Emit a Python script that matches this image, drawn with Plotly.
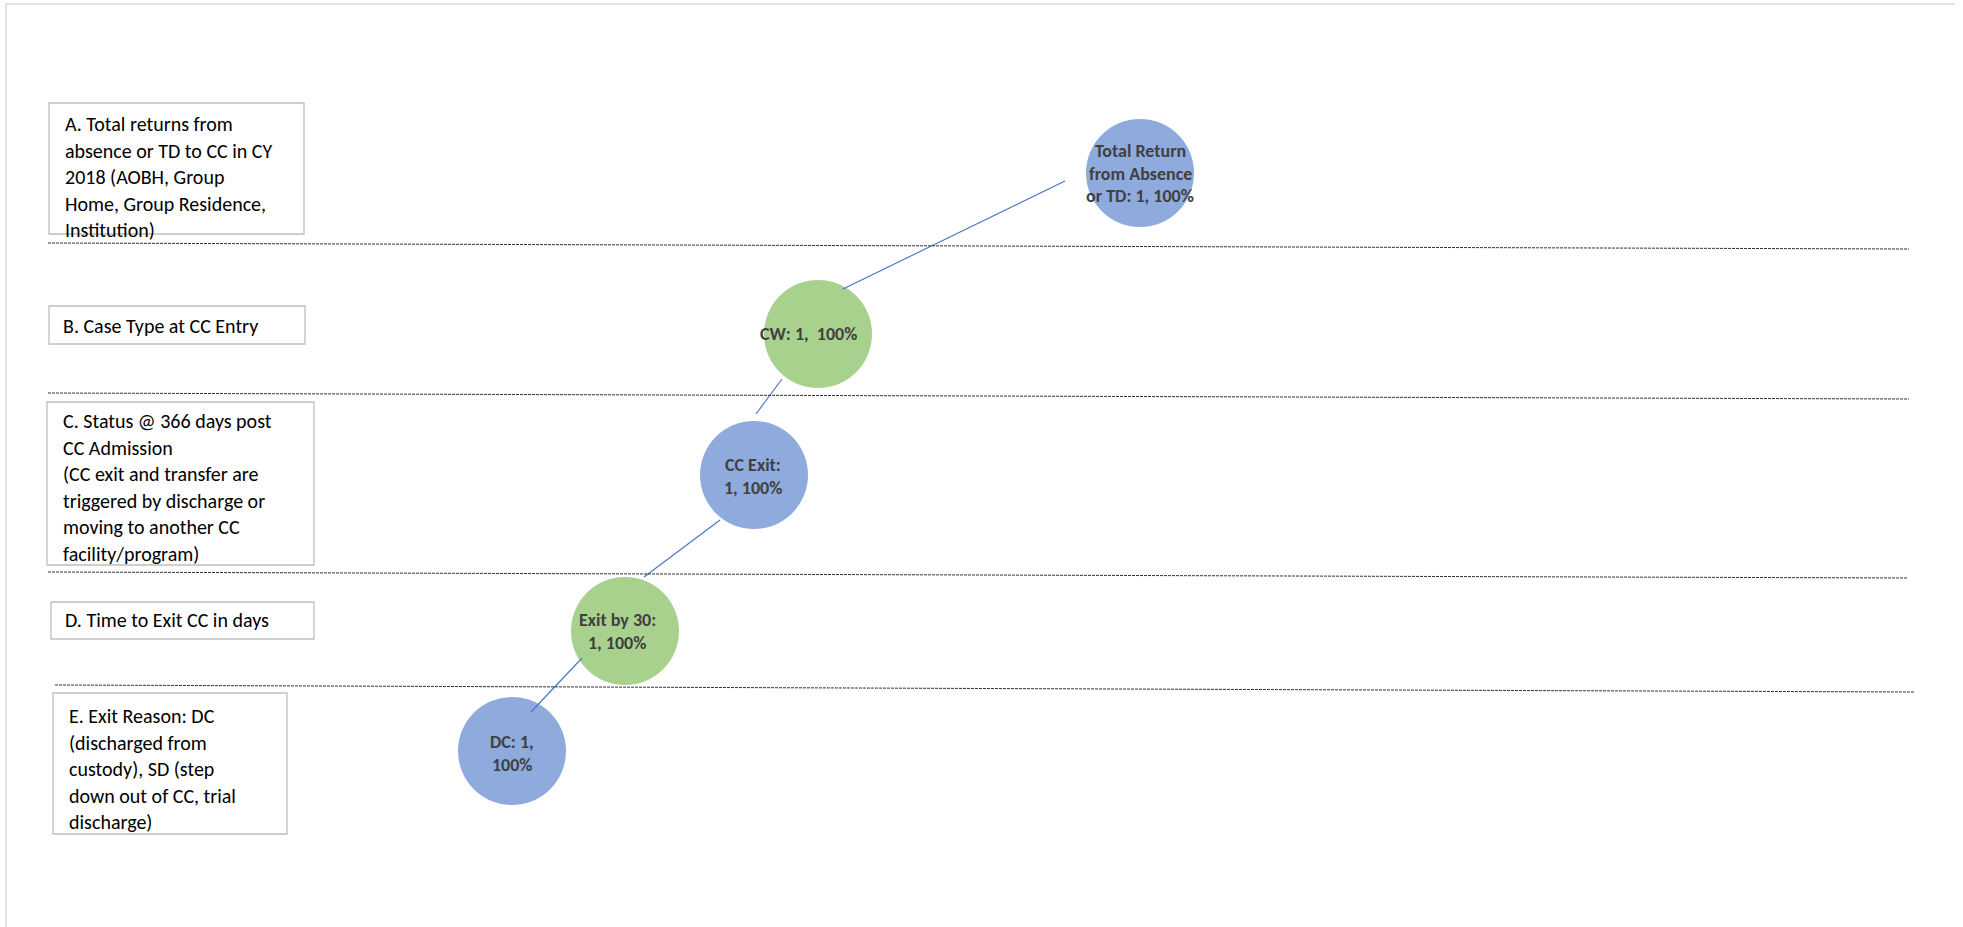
import plotly.graph_objects as go

# ---------------- data ----------------
stage_lines = [
    ["A. Total returns from", "absence or TD to CC in CY", "2018 (AOBH, Group",
     "Home, Group Residence,", "Institution)"],
    ["B. Case Type at CC Entry"],
    ["C. Status @ 366 days post", "CC Admission", "(CC exit and transfer are",
     "triggered by discharge or", "moving to another CC", "facility/program)"],
    ["D. Time to Exit CC in days"],
    ["E. Exit Reason: DC", "(discharged from", "custody), SD (step",
     "down out of CC, trial", "discharge)"],
]
node_lines = [
    ["Total Return", "from Absence", "or TD: 1, 100%"],
    ["CW: 1,  100%"],
    ["CC Exit:", "1, 100%"],
    ["Exit by 30:", "1, 100%"],
    ["DC: 1,", "100%"],
]
node_counts = [1, 1, 1, 1, 1]
node_pcts = [100, 100, 100, 100, 100]

# ---------------- layout (pixel space) ----------------
W, H = 1963, 927
node_cx = [1140, 818, 754, 625, 512]
node_cy = [173, 334, 475, 631, 751]
node_colors = ["#8FAADC", "#A9D18E", "#8FAADC", "#A9D18E", "#8FAADC"]
node_text_x = [1140, 808, 753, 617, 512]
node_text_y0 = [151, 334, 465, 620, 742]
node_line_h = 22.5

box_rects = [(49, 103, 304, 234), (49, 306, 305, 344), (47, 402, 314, 565),
             (51, 602, 314, 639), (53, 693, 287, 834)]
box_text_x = [63, 61, 61, 63, 67]
box_text_y0 = [124, 326, 421, 620, 716]
box_line_h = 26.5

sep_lines = [((48, 243), (1909, 249)), ((48, 393), (1909, 399)),
             ((48, 572), (1908, 578)), ((55, 685), (1915, 692))]
connectors = [((1065, 181), (843, 289)), ((782, 379), (756, 414)),
              ((720, 520), (644, 577)), ((582, 658), (531, 712))]

FONT = "Calibri, Carlito, Lato"

fig = go.Figure()

# circles
fig.add_trace(go.Scatter(
    x=node_cx, y=node_cy, mode="markers",
    marker=dict(size=108, color=node_colors, line=dict(width=0)),
    customdata=list(zip(node_counts, node_pcts)),
    hoverinfo="skip", showlegend=False))

# connectors
for (x0, y0), (x1, y1) in connectors:
    fig.add_trace(go.Scatter(x=[x0, x1], y=[y0, y1], mode="lines",
                             line=dict(color="#4472C4", width=1.1),
                             hoverinfo="skip", showlegend=False))

shapes = []
# page frame (top and left edges)
shapes.append(dict(type="line", x0=6, y0=4, x1=1955, y1=4,
                   line=dict(color="#D9D9D9", width=1.5)))
shapes.append(dict(type="line", x0=6, y0=4, x1=6, y1=H,
                   line=dict(color="#D9D9D9", width=1.5)))
# stage boxes
for (x0, y0, x1, y1) in box_rects:
    shapes.append(dict(type="rect", x0=x0, y0=y0, x1=x1, y1=y1,
                       line=dict(color="#BFBFBF", width=1.3),
                       fillcolor="rgba(0,0,0,0)"))
# separators
for (x0, y0), (x1, y1) in sep_lines:
    shapes.append(dict(type="line", x0=x0, y0=y0, x1=x1, y1=y1,
                       line=dict(color="#333333", width=1, dash="3px,1px")))

annotations = []
for i, lines in enumerate(stage_lines):
    for j, t in enumerate(lines):
        annotations.append(dict(
            x=box_text_x[i], y=box_text_y0[i] + j * box_line_h, text=t,
            xanchor="left", yanchor="middle", showarrow=False,
            font=dict(family=FONT, size=20, color="#000000")))
for i, lines in enumerate(node_lines):
    for j, t in enumerate(lines):
        annotations.append(dict(
            x=node_text_x[i], y=node_text_y0[i] + j * node_line_h,
            text="<b>" + t + "</b>",
            xanchor="center", yanchor="middle", showarrow=False,
            font=dict(family=FONT, size=18, color="#404040")))

fig.update_layout(
    width=W, height=H, margin=dict(l=0, r=0, t=0, b=0),
    paper_bgcolor="white", plot_bgcolor="white",
    xaxis=dict(range=[0, W], visible=False, fixedrange=True),
    yaxis=dict(range=[H, 0], visible=False, fixedrange=True),
    shapes=shapes, annotations=annotations)

fig.write_html("out.html", config={"displayModeBar": False},
               post_script="document.body.style.margin='0';document.body.style.overflow='hidden';")
